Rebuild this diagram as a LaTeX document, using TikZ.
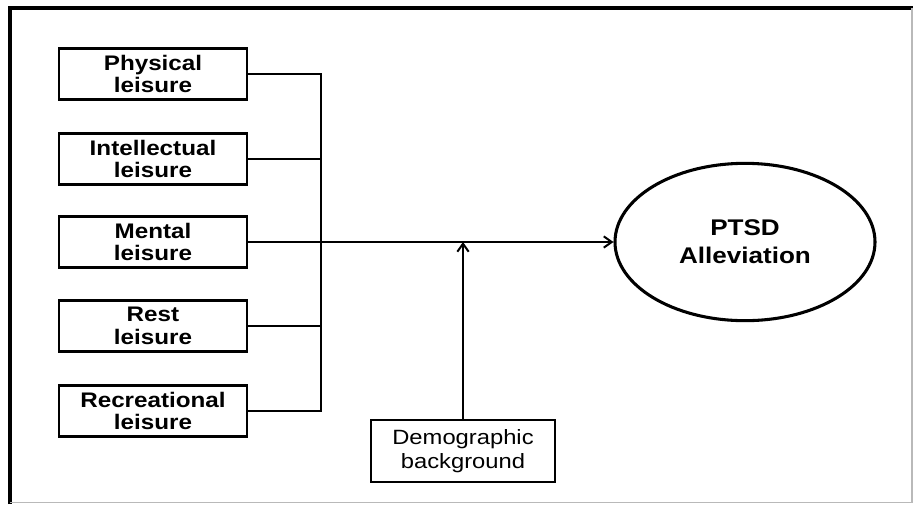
\documentclass[tikz,border=0pt]{standalone}
\usepackage{fontspec}
\setmainfont[FakeStretch=1.15]{Liberation Sans}
\usetikzlibrary{arrows.meta,shapes.geometric}

\begin{document}
\begin{tikzpicture}[x=0.75pt, y=-0.75pt, line width=1.5pt,
          every node/.style = {draw, align=center, inner sep=0pt, line width=2.2pt},
          leisure/.style = {shape=rectangle, minimum width=141pt, minimum height=38pt, font=\bfseries\fontsize{15.8}{17}\selectfont},
          barb/.style = {-{Straight Barb[length=6pt, width=8.5pt, line width=1.5pt]}}]
          \useasboundingbox (0,0) rectangle (913,504);
          % frame
          \draw[line width=2.6pt] (10,504) -- (10,8) -- (913,8);
          \draw[gray!55, line width=1pt] (10,502.5) -- (912,502.5) -- (912,8);
          % left column
          \node[leisure] (phys) at (153,74)  {Physical\\leisure};
          \node[leisure] (int)  at (153,159) {Intellectual\\leisure};
          \node[leisure] (ment) at (153,242) {Mental\\leisure};
          \node[leisure] (rest) at (153,326) {Rest\\leisure};
          \node[leisure] (rec)  at (153,411) {Recreational\\leisure};
          \node[shape=ellipse, minimum width=195pt, minimum height=118pt, line width=2.3pt,
                font=\bfseries\fontsize{17}{21}\selectfont] (ptsd) at (745,242) {PTSD\\Alleviation};
          \node[shape=rectangle, minimum width=138pt, minimum height=46.5pt,
                font=\fontsize{15.5}{17.5}\selectfont] (demo) at (463,451) {Demographic\\background};
          \coordinate (bus) at (321,0);
          % connectors
          \draw (phys.east) -| (bus |- rec.east) -- (rec.east);
          \draw (int.east) -- (int.east -| bus);
          \draw (rest.east) -- (rest.east -| bus);
          \draw[barb] (ment) -- (ptsd);
          \draw[barb] (demo) -- (demo |- ment.east);
\end{tikzpicture}
\end{document}
